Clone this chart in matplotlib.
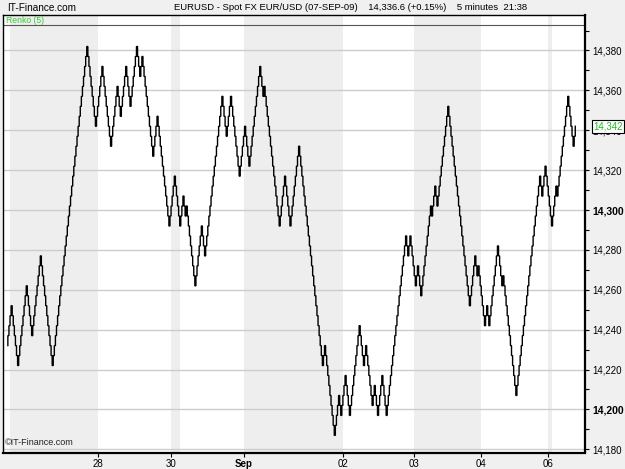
import matplotlib
matplotlib.use("Agg")
import matplotlib.pyplot as plt
import numpy as np

plt.rcParams['font.family'] = ['Liberation Sans', 'DejaVu Sans']

# ---- data -------------------------------------------------------------
brick_size = 5
start_level = 14232
# signed brick counts of successive Renko runs
runs = [4, -6, 8, -5, 8, -11, 32,
        -8, 6, -8, 6, -3, 5, -4, 6, -3, 2, -10, 4, -11, 5, -5, 3, -2, 1, -8,
        6, -3, 16,
        -4, 4, -8, 5, -4, 10, -3, 1, -14, 5, -5, 8,
        -22, 2, -9, 4, -2, 4, -4, 9, -4, 2, -6, 2, -3, 4, -4, 18,
        -2, 2, -5, 2, -3, 9, -1, 3, -2, 10,
        -20, 5, -2, 1, -6, 2, -2, 8, -4, 1, -12, 22, -2, 3, -6,
        4, -1, 10, -5, 2]

# day sessions (brick index where each session starts) and shading
day_starts = [2, 83.4, 151, 159.3, 218.5, 310, 375.8, 437.8, 499.8, 503.5]
day_shaded = [True, False, True, False, True, False, True, False, True, False]
tick_pos = [83.4, 151, 218.5, 310, 375.8, 437.8, 499.8]
tick_labels = ['28', '30', 'Sep', '02', '03', '04', '06']

y_major = list(range(14180, 14381, 20))
last_value = 14342

# ---- build renko path ----------------------------------------------------
closes = [start_level]
for r in runs:
    step = brick_size if r > 0 else -brick_size
    for _ in range(abs(r)):
        closes.append(closes[-1] + step)
closes = np.array(closes)
n = len(closes) - 1
xs, ys = [], []
for i in range(1, n + 1):
    xs += [i - 1, i - 1]
    ys += [closes[i - 1], closes[i]]

# ---- figure ---------------------------------------------------------------
W, H = 625, 469
fig = plt.figure(figsize=(W / 100, H / 100), dpi=100, facecolor='#f0f0f0')
left_px, right_px, top_px, bot_px = 3, 585, 15, 452.5
ax = fig.add_axes([left_px / W, 1 - bot_px / H, (right_px - left_px) / W,
                   (bot_px - top_px) / H])
ax.set_facecolor('white')

x_min = -4.5
x_max = 534
ax.set_xlim(x_min, x_max)
ax.set_ylim(14178.4, 14397.8)

ends = day_starts[1:] + [x_max]
for s, e, sh in zip(day_starts, ends, day_shaded):
    if sh:
        ax.axvspan(s, e, color='#eeeeee', lw=0, zorder=0)

ax.set_yticks(y_major)
ax.set_yticks(list(range(14190, 14400, 20)), minor=True)
ax.grid(axis='y', which='major', color='#cccccc', lw=1.0, zorder=1)
ax.yaxis.tick_right()
ax.set_yticklabels([f"{v:,}" for v in y_major])
for lab, v in zip(ax.get_yticklabels(), y_major):
    lab.set_fontsize(7)
    if v in (14200, 14300):
        lab.set_fontweight('bold')
        lab.set_fontsize(7.5)
ax.tick_params(axis='y', which='both', direction='out', length=3, width=0.8,
               pad=2, colors='black')

ax.set_xticks(tick_pos)
ax.set_xticklabels(tick_labels, fontsize=7)
for lab in ax.get_xticklabels():
    if lab.get_text() == 'Sep':
        lab.set_fontweight('bold')
ax.tick_params(axis='x', direction='out', length=3, width=0.8, pad=2)

for side, sp in ax.spines.items():
    sp.set_color('black')
    sp.set_linewidth(1.6 if side in ('right', 'bottom') else 1.0)

ax.plot(xs, ys, color='black', lw=1.0, zorder=3, solid_joinstyle='miter')

# strip line & label
ax.plot([0, 1], [0.977, 0.977], transform=ax.transAxes, color='#555555',
        lw=0.8, zorder=2)
ax.text(0.005, 0.9885, 'Renko (5)', transform=ax.transAxes, color='#33cc33',
        fontsize=6.2, va='center', ha='left')

ax.text(0.004, 0.012, '©IT-Finance.com', transform=ax.transAxes,
        fontsize=6.5, va='bottom', ha='left', color='#222222')

# last value box
ax.annotate(f"{last_value:,}", xy=(1, last_value),
            xycoords=('axes fraction', 'data'), xytext=(6, 0),
            textcoords='offset points', va='center', ha='left', fontsize=7,
            color='#22bb22', annotation_clip=False, zorder=10,
            bbox=dict(boxstyle='square,pad=0.15', fc='white', ec='black', lw=0.8))

# header
fig.text(7 / W, 1 - 8 / H, 'IT-Finance.com', fontsize=7.2, va='center', ha='left')
fig.text(174 / W, 1 - 8 / H,
         'EURUSD - Spot FX EUR/USD (07-SEP-09)    14,336.6 (+0.15%)    5 minutes  21:38',
         fontsize=6.8, va='center', ha='left')

fig.savefig('out.png', dpi=100, facecolor=fig.get_facecolor())
